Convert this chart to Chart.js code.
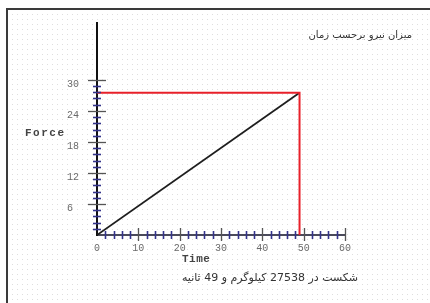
<!DOCTYPE html>
<html>
<head>
<meta charset="utf-8">
<script src="https://cdn.jsdelivr.net/npm/chart.js@4"></script>
<style>
  body { margin: 0; background: #fff; }
  #wrap { position: relative; width: 430px; height: 303px; overflow: hidden; }
  #frame {
    position: absolute; left: 6px; top: 8px; right: -4px; bottom: -4px;
    border-left: 2px solid #3a3a3a; border-top: 2px solid #3a3a3a;
    background: radial-gradient(circle, #dedede 0.7px, transparent 1px) 2px 2px / 5px 5px;
  }
  #cnv { position: absolute; left: 0; top: 0; }
</style>
</head>
<body>
<div id="wrap">
  <div id="frame"></div>
  <canvas id="cnv" width="430" height="303"></canvas>
</div>
<script>
(function(){

// datos de la grafica
const fuerzaLinea = [{x: 0, y: 0}, {x: 49, y: 27.5}];
const rojaLinea = [{x: 0, y: 27.5}, {x: 49, y: 27.5}, {x: 49, y: 0}];
const xTicks = [0, 10, 20, 30, 40, 50, 60];
const yTicks = [6, 12, 18, 24, 30];
const xMenor = 2;     // paso de las marcas chicas en x
const yMenor = 1.2;   // paso de las marcas chicas en y

const titulo = "میزان نیرو برحسب زمان";
const pie = "شکست در 27538 کیلوگرم و 49 ثانیه";

//----marcas que cruzan los ejes y los textos sueltos
const marcasPlugin = {
    id: "marcas",
    afterDatasetsDraw(chart){
        const ctx = chart.ctx;
        const sx = chart.scales.x;
        const sy = chart.scales.y;
        const x0 = sx.getPixelForValue(0);
        const y0 = sy.getPixelForValue(0);
        ctx.save();
        ctx.lineWidth = 1.6;

        // marcas chicas en y
        ctx.strokeStyle = "#33338a";
        for (let i = 1; i * yMenor <= 30.01; i++) {
            if (i % 5 === 0) continue;
            const py = Math.round(sy.getPixelForValue(i * yMenor)) + 0.5;
            ctx.beginPath(); ctx.moveTo(x0 - 4, py); ctx.lineTo(x0 + 4, py); ctx.stroke();
        }
        // marcas chicas en x
        for (let i = 1; i * xMenor < 60; i++) {
            if (i % 5 === 0) continue;
            const px = Math.round(sx.getPixelForValue(i * xMenor)) + 0.5;
            ctx.beginPath(); ctx.moveTo(px, y0 - 4); ctx.lineTo(px, y0 + 4); ctx.stroke();
        }
        // marcas grandes
        ctx.strokeStyle = "#555";
        ctx.lineWidth = 1.3;
        yTicks.forEach(v => {
            const py = Math.round(sy.getPixelForValue(v)) + 0.5;
            ctx.beginPath(); ctx.moveTo(x0 - 9, py); ctx.lineTo(x0 + 9, py); ctx.stroke();
        });
        xTicks.forEach(v => {
            if (v === 0) return;
            const px = Math.round(sx.getPixelForValue(v)) + 0.5;
            ctx.beginPath(); ctx.moveTo(px, y0 - 7); ctx.lineTo(px, y0 + 6); ctx.stroke();
        });

        // textos
        ctx.fillStyle = "#444";
        ctx.font = 'bold 11px "Liberation Mono"';
        ctx.letterSpacing = "1.5px";
        ctx.textBaseline = "middle";
        ctx.textAlign = "left";
        ctx.fillText("Force", 25, 133);
        ctx.letterSpacing = "0.5px";
        ctx.fillText("Time", 182, 259);

        ctx.letterSpacing = "0px";
        ctx.fillStyle = "#333";
        ctx.direction = "rtl";
        ctx.font = '10px "DejaVu Sans"';
        ctx.textAlign = "right";
        ctx.fillText(titulo, 412, 35);
        ctx.font = '11px "DejaVu Sans"';
        ctx.textAlign = "center";
        ctx.fillText(pie, 270, 278);
        ctx.restore();
    }
};

const ctx = document.querySelector("#cnv");

let myChart = new Chart(ctx, {
    type: "line",
    data: {
        datasets: [{
            data: rojaLinea,
            borderColor: "#e8202a",
            borderWidth: 2,
            pointRadius: 0,
            tension: 0
        },{
            data: fuerzaLinea,
            borderColor: "#1e1e1e",
            borderWidth: 1.8,
            pointRadius: 0,
            tension: 0
        }]
    },
    options: {
        responsive: false,
        animation: false,
        events: [],
        layout: { padding: { left: 67, right: 85, top: 23, bottom: 0 } },
        plugins: { legend: { display: false }, tooltip: { enabled: false } },
        scales: {
            x: {
                type: "linear",
                min: 0,
                max: 60,
                afterBuildTicks: s => { s.ticks = xTicks.map(v => ({value: v})); },
                afterFit: s => { s.height = 68; },
                grid: { drawOnChartArea: false, drawTicks: false },
                border: { display: true, color: "#4a4a5a", width: 2 },
                ticks: {
                    padding: 7,
                    color: "#6a6a6a",
                    font: { family: "Liberation Mono", size: 10 },
                    maxRotation: 0
                }
            },
            y: {
                type: "linear",
                min: 0,
                max: 41,
                afterBuildTicks: s => { s.ticks = yTicks.map(v => ({value: v})); },
                afterFit: s => { s.width = 30; },
                grid: { drawOnChartArea: false, drawTicks: false },
                border: { display: true, color: "#111", width: 2 },
                ticks: {
                    crossAlign: "far",
                    labelOffset: 4,
                    color: "#6a6a6a",
                    font: { family: "Liberation Mono", size: 10 }
                }
            }
        }
    },
    plugins: [marcasPlugin]
});

})();
</script>
</body>
</html>
